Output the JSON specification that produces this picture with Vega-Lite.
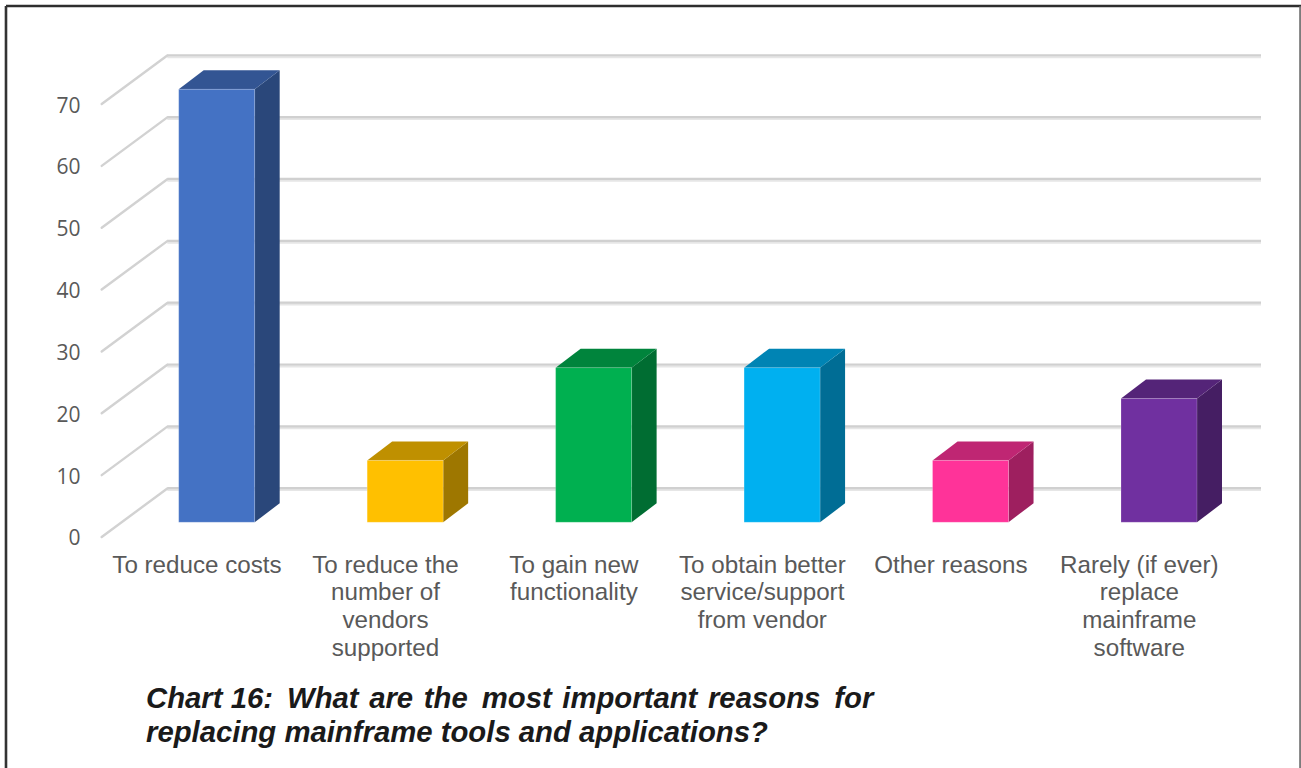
{
  "$schema": "https://vega.github.io/schema/vega-lite/v6.json",
  "width": 1301,
  "height": 768,
  "padding": 0,
  "autosize": {"type": "none"},
  "background": "#ffffff",
  "config": {"view": {"stroke": null}},
  "datasets": {
    "reasons": [
      {"slot": 0, "reason": "To reduce costs", "value": 70},
      {"slot": 1, "reason": "To reduce the\nnumber of\nvendors\nsupported", "value": 10},
      {"slot": 2, "reason": "To gain new\nfunctionality", "value": 25},
      {"slot": 3, "reason": "To obtain better\nservice/support\nfrom vendor", "value": 25},
      {"slot": 4, "reason": "Other reasons", "value": 10},
      {"slot": 5, "reason": "Rarely (if ever)\nreplace\nmainframe\nsoftware", "value": 20}
    ],
    "ticks": [
      {"tick": 0}, {"tick": 10}, {"tick": 20}, {"tick": 30},
      {"tick": 40}, {"tick": 50}, {"tick": 60}, {"tick": 70}
    ]
  },
  "encoding": {
    "x": {"type": "quantitative", "axis": null, "scale": {"domain": [-1.0453, 5.858], "nice": false, "zero": false}},
    "y": {
      "type": "quantitative",
      "scale": {"domain": [-37.35, 86.82], "nice": false, "zero": false},
      "axis": {
        "orient": "left",
        "offset": -80,
        "values": [0, 10, 20, 30, 40, 50, 60, 70],
        "title": null,
        "grid": false,
        "domain": false,
        "ticks": false,
        "labelPadding": 0,
        "labelOffset": 2,
        "labelFont": "Open Sans",
        "labelFontSize": 21,
        "labelColor": "#595959",
        "labelOverlap": false,
        "labelBound": false,
        "labelFlush": false
      }
    }
  },
  "resolve": {"scale": {"color": "independent"}},
  "layer": [
    {
      "data": {"name": "ticks"},
      "transform": [
        {"calculate": "-0.5057", "as": "floorFront"},
        {"calculate": "-0.1576", "as": "floorBack"},
        {"calculate": "5.6458", "as": "wallEnd"},
        {"calculate": "datum.tick + 7.84", "as": "wallLevel"}
      ],
      "layer": [
        {
          "mark": {"type": "rule", "color": "#e6e6e6", "strokeWidth": 3.4, "yOffset": 0.9},
          "encoding": {"x": {"field": "floorBack"}, "x2": {"field": "wallEnd"}, "y": {"field": "wallLevel"}}
        },
        {
          "mark": {"type": "rule", "color": "#d0d0d0", "strokeWidth": 2.2, "yOffset": -0.3},
          "encoding": {"x": {"field": "floorBack"}, "x2": {"field": "wallEnd"}, "y": {"field": "wallLevel"}}
        },
        {
          "mark": {"type": "rule", "color": "#d2d2d2", "strokeWidth": 2.4, "strokeCap": "round"},
          "encoding": {
            "x": {"field": "floorFront"},
            "x2": {"field": "floorBack"},
            "y": {"field": "tick"},
            "y2": {"field": "wallLevel"}
          }
        }
      ]
    },
    {
      "data": {"name": "reasons"},
      "transform": [
        {"calculate": "datum.slot - 0.0971", "as": "frontLeft"},
        {"calculate": "datum.slot + 0.3061", "as": "frontRight"},
        {"calculate": "datum.frontLeft + 0.1327", "as": "backLeft"},
        {"calculate": "datum.frontRight + 0.1327", "as": "backRight"},
        {"calculate": "datum.value + 2.38", "as": "frontTop"},
        {"calculate": "datum.value + 5.45", "as": "backTop"},
        {"calculate": "2.38", "as": "frontBase"}
      ],
      "resolve": {"scale": {"color": "independent"}},
      "layer": [
        {
          "transform": [
            {"fold": ["frontRight", "backRight"], "as": ["corner", "xPos"]},
            {"calculate": "datum.corner === 'frontRight' ? 2.38 : 5.45", "as": "sideBase"},
            {"calculate": "datum.value + datum.sideBase", "as": "sideTop"}
          ],
          "mark": {"type": "area", "orient": "vertical", "interpolate": "linear"},
          "encoding": {
            "x": {"field": "xPos"},
            "y": {"field": "sideBase"},
            "y2": {"field": "sideTop"},
            "detail": {"field": "slot"},
            "color": {
              "field": "slot",
              "type": "nominal",
              "legend": null,
              "scale": {"domain": [0, 1, 2, 3, 4, 5], "range": ["#2a477a", "#9e7700", "#006d32", "#006d95", "#9e1f5f", "#451e63"]}
            }
          }
        },
        {
          "transform": [
            {"fold": ["frontTop", "backTop"], "as": ["corner", "yPos"]},
            {"calculate": "datum.corner === 'frontTop' ? datum.frontLeft : datum.backLeft", "as": "topLeft"},
            {"calculate": "datum.corner === 'frontTop' ? datum.frontRight : datum.backRight", "as": "topRight"}
          ],
          "mark": {"type": "area", "orient": "horizontal", "interpolate": "linear"},
          "encoding": {
            "x": {"field": "topLeft"},
            "x2": {"field": "topRight"},
            "y": {"field": "yPos"},
            "detail": {"field": "slot"},
            "color": {
              "field": "slot",
              "type": "nominal",
              "legend": null,
              "scale": {"domain": [0, 1, 2, 3, 4, 5], "range": ["#335593", "#bf9000", "#00843c", "#0084b4", "#bf2673", "#542478"]}
            }
          }
        },
        {
          "mark": {"type": "rect", "stroke": "#ffffff", "strokeOpacity": 0.2, "strokeWidth": 1},
          "encoding": {
            "x": {"field": "frontLeft"},
            "x2": {"field": "frontRight"},
            "y": {"field": "frontBase"},
            "y2": {"field": "frontTop"},
            "color": {
              "field": "slot",
              "type": "nominal",
              "legend": null,
              "scale": {"domain": [0, 1, 2, 3, 4, 5], "range": ["#4472c4", "#ffc000", "#00b050", "#00b0f0", "#ff3399", "#7030a0"]}
            }
          }
        },
        {
          "mark": {
            "type": "text",
            "font": "Liberation Sans",
            "fontSize": 24.2,
            "color": "#595959",
            "align": "center",
            "baseline": "alphabetic",
            "lineBreak": "\n",
            "lineHeight": 27.8
          },
          "encoding": {
            "x": {"field": "slot"},
            "y": {"datum": -5.77},
            "text": {"field": "reason"}
          }
        }
      ]
    },
    {
      "data": {"values": [{"caption": "Chart 16: \u2009What \u200aare \u200athe \u2009most \u200aimportant \u200areasons \u2009for\nreplacing mainframe tools and applications?"}]},
      "mark": {
        "type": "text",
        "font": "Liberation Sans",
        "fontSize": 29.3,
        "fontWeight": "bold",
        "fontStyle": "italic",
        "color": "#1a1a1a",
        "align": "left",
        "baseline": "alphabetic",
        "lineBreak": "\n",
        "lineHeight": 34
      },
      "encoding": {
        "x": {"datum": -0.2706},
        "y": {"datum": -27.65},
        "text": {"field": "caption"}
      }
    },
    {
      "data": {"values": [{"edge": "frame"}]},
      "layer": [
        {
          "mark": {"type": "rule", "color": "#2e2e2e", "strokeWidth": 2.4},
          "encoding": {"x": {"datum": -1.0135}, "x2": {"datum": 5.858}, "y": {"datum": 85.85}}
        },
        {
          "mark": {"type": "rule", "color": "#333333", "strokeWidth": 2.6},
          "encoding": {"x": {"datum": -1.0135}, "y": {"datum": 85.85}, "y2": {"datum": -37.35}}
        },
        {
          "mark": {"type": "rule", "color": "#666666", "strokeWidth": 1.6},
          "encoding": {"x": {"datum": 5.853}, "y": {"datum": 85.85}, "y2": {"datum": -37.35}}
        }
      ]
    }
  ]
}
